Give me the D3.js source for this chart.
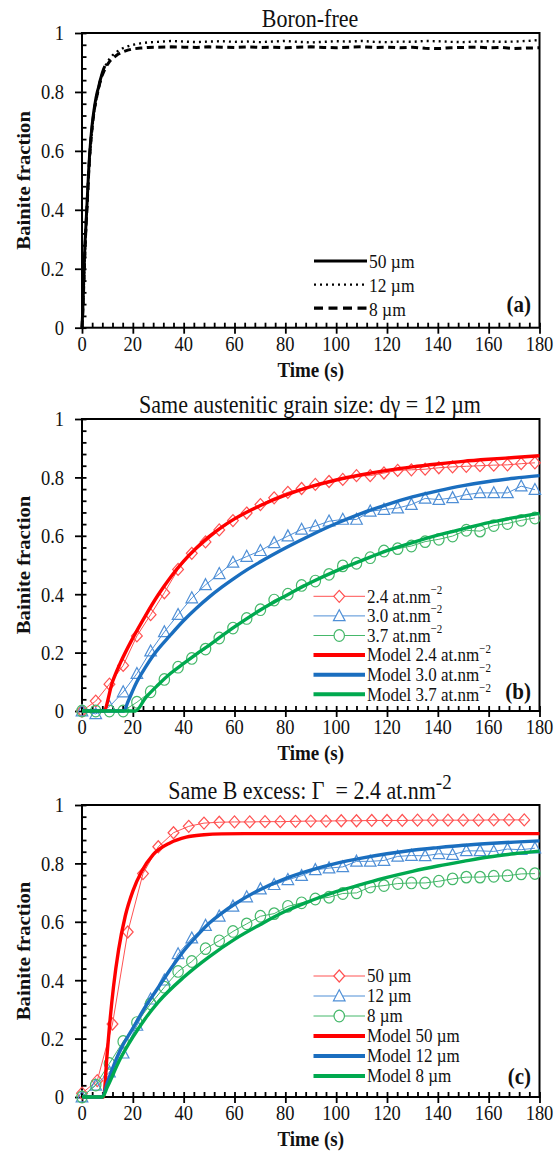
<!DOCTYPE html>
<html lang="en">
<head>
<meta charset="UTF-8">
<title>Bainite fraction vs time</title>
<script src="https://d3js.org/d3.v7.min.js"></script>
<style>
  body { margin: 0; background: #fff; }
  svg { display: block; font-family: "Liberation Serif", "Times New Roman", serif; }
  text { white-space: pre; }
</style>
</head>
<body>
<svg id="chart" width="557" height="1157"></svg>
<script>
// ---------- data ----------
const timeTicks = [0, 20, 40, 60, 80, 100, 120, 140, 160, 180];
const fracTicks = [0, 0.2, 0.4, 0.6, 0.8, 1];
const fracTickLabels = ["0", "0.2", "0.4", "0.6", "0.8", "1"];

// (a) boron-free, [time s, fraction]
const boronFree50 = [[0,0],[0.3,0.06],[0.6,0.14],[0.9,0.22],[1.2,0.29],[1.5,0.34],[1.8,0.39],[2.2,0.46],[2.6,0.53],[3,0.59],[3.5,0.645],[4,0.69],[4.5,0.725],[5,0.755],[5.5,0.78],[6,0.8],[6.5,0.815],[7,0.835],[7.5,0.85],[8,0.865],[8.5,0.878],[9,0.888]];
const boronFree12 = [[0,0],[0.3,0.04],[0.6,0.11],[0.9,0.19],[1.2,0.26],[1.5,0.32],[1.8,0.37],[2.2,0.44],[2.6,0.51],[3,0.57],[3.5,0.63],[4,0.675],[4.5,0.715],[5,0.745],[6,0.79],[7,0.83],[8,0.862],[9,0.885],[10,0.902],[11,0.914],[12,0.924],[14,0.938],[16,0.948],[18,0.955],[20,0.96],[23,0.965],[26,0.968],[30,0.97],[35,0.973],[40,0.971],[45,0.969],[50,0.971],[55,0.972],[60,0.97],[65,0.971],[70,0.969],[75,0.971],[80,0.973],[85,0.97],[90,0.968],[95,0.97],[100,0.972],[105,0.971],[110,0.973],[115,0.97],[120,0.969],[125,0.971],[130,0.97],[135,0.973],[140,0.972],[145,0.97],[150,0.969],[155,0.971],[160,0.972],[165,0.97],[170,0.971],[175,0.973],[180,0.976]];
const boronFree8 = [[0,0],[0.3,0.05],[0.6,0.12],[0.9,0.2],[1.2,0.27],[1.5,0.33],[1.8,0.38],[2.2,0.45],[2.6,0.52],[3,0.58],[3.5,0.635],[4,0.68],[4.5,0.718],[5,0.748],[6,0.792],[7,0.83],[8,0.858],[9,0.878],[10,0.893],[11,0.905],[12,0.914],[14,0.927],[16,0.936],[18,0.942],[20,0.946],[23,0.949],[26,0.951],[30,0.952],[35,0.953],[40,0.952],[45,0.951],[50,0.953],[55,0.952],[60,0.951],[65,0.953],[70,0.951],[75,0.952],[80,0.95],[85,0.952],[90,0.953],[95,0.951],[100,0.95],[105,0.952],[110,0.953],[115,0.951],[120,0.952],[125,0.95],[130,0.952],[135,0.948],[140,0.947],[145,0.95],[150,0.951],[155,0.952],[160,0.95],[165,0.951],[170,0.947],[175,0.949],[180,0.95]];

// (b) same grain size 12 um: measured points
const timesB = [0,5.4,10.8,16.2,21.6,27,32.4,37.8,43.2,48.6,54,59.4,64.8,70.2,75.6,81,86.4,91.8,97.2,102.6,108,113.4,118.8,124.2,129.6,135,140.4,145.8,151.2,156.6,162,167.4,172.8,178.2];
const fracB24 = [0,0.034,0.092,0.156,0.257,0.33,0.405,0.485,0.54,0.579,0.62,0.652,0.678,0.707,0.73,0.749,0.762,0.776,0.786,0.793,0.806,0.806,0.815,0.824,0.826,0.828,0.833,0.836,0.838,0.84,0.842,0.843,0.847,0.85];
const fracB30 = [0,-0.01,0.015,0.065,0.128,0.205,0.271,0.33,0.387,0.432,0.47,0.509,0.529,0.549,0.576,0.599,0.622,0.633,0.65,0.656,0.656,0.684,0.69,0.695,0.707,0.728,0.724,0.73,0.741,0.747,0.747,0.747,0.77,0.758];
const fracB37 = [0,0,0,0,0.03,0.066,0.108,0.15,0.18,0.212,0.25,0.284,0.317,0.347,0.38,0.4,0.43,0.445,0.468,0.497,0.506,0.525,0.548,0.556,0.565,0.58,0.588,0.599,0.619,0.616,0.635,0.642,0.653,0.661];
// (b) model curves [time, fraction]
const modelB24 = [[0,0],[8.5,0],[12,0.1],[15,0.163],[20,0.25],[25,0.327],[30,0.398],[35,0.46],[40,0.513],[45,0.558],[50,0.597],[55,0.63],[60,0.658],[70,0.703],[80,0.739],[90,0.768],[100,0.791],[110,0.809],[120,0.824],[130,0.836],[140,0.846],[150,0.855],[160,0.862],[170,0.868],[180,0.874]];
const modelB30 = [[0,0],[16.5,0],[18,0.03],[21.6,0.1],[25,0.15],[28,0.19],[35,0.262],[40,0.31],[45,0.352],[50,0.39],[55,0.424],[60,0.455],[65,0.484],[70,0.51],[80,0.558],[90,0.602],[100,0.642],[110,0.677],[120,0.707],[130,0.733],[140,0.754],[150,0.772],[160,0.786],[170,0.797],[180,0.806]];
const modelB37 = [[0,0],[21,0],[25,0.045],[30,0.09],[35,0.13],[40,0.163],[45,0.195],[50,0.225],[55,0.257],[60,0.288],[70,0.345],[80,0.394],[90,0.44],[100,0.48],[110,0.515],[120,0.549],[130,0.577],[140,0.602],[150,0.624],[160,0.645],[170,0.662],[180,0.677]];

// (c) same B excess 2.4 at/nm2: measured points
const timesC50 = [0,6,12,18,24,30,36,42,48,54,60,66,72,78,84,90,96,102,108,114,120,126,132,138,144,150,156,162,168,174];
const fracC50 = [0.013,0.056,0.25,0.565,0.765,0.857,0.905,0.927,0.938,0.941,0.942,0.942,0.943,0.943,0.944,0.945,0.945,0.946,0.946,0.947,0.947,0.947,0.948,0.948,0.948,0.948,0.948,0.949,0.949,0.949];
const timesC = [0,5.4,10.8,16.2,21.6,27,32.4,37.8,43.2,48.6,54,59.4,64.8,70.2,75.6,81,86.4,91.8,97.2,102.6,108,113.4,118.8,124.2,129.6,135,140.4,145.8,151.2,156.6,162,167.4,172.8,178.2];
const fracC12 = [0,0.04,0.085,0.15,0.245,0.335,0.4,0.49,0.544,0.587,0.619,0.653,0.685,0.712,0.727,0.744,0.758,0.778,0.784,0.788,0.807,0.807,0.81,0.824,0.827,0.826,0.833,0.83,0.843,0.843,0.841,0.849,0.847,0.852];
const fracC8 = [0,0.041,0.115,0.19,0.255,0.319,0.376,0.43,0.464,0.508,0.535,0.567,0.593,0.619,0.628,0.653,0.665,0.678,0.684,0.697,0.699,0.719,0.724,0.731,0.733,0.733,0.739,0.747,0.753,0.753,0.756,0.758,0.764,0.765];
// (c) model curves
const modelC50 = [[0,0],[8.5,0],[9.8,0.138],[10.8,0.241],[12.4,0.378],[14.4,0.504],[17,0.619],[20,0.705],[23.5,0.773],[28,0.83],[34.6,0.87],[41,0.89],[48,0.898],[55,0.901],[70,0.902],[100,0.902],[180,0.902]];
const modelC12 = [[0,0],[8,0],[10,0.05],[15,0.16],[20,0.235],[25,0.31],[30,0.375],[35,0.44],[40,0.5],[45,0.55],[50,0.595],[55,0.63],[60,0.66],[70,0.71],[80,0.748],[90,0.777],[100,0.8],[110,0.818],[120,0.833],[130,0.845],[140,0.854],[150,0.862],[160,0.868],[170,0.873],[180,0.877]];
const modelC8 = [[0,0],[8,0],[10,0.035],[15,0.13],[20,0.205],[25,0.27],[30,0.325],[40,0.41],[50,0.48],[60,0.54],[70,0.59],[80,0.636],[90,0.672],[100,0.703],[110,0.728],[120,0.752],[130,0.773],[140,0.791],[150,0.807],[160,0.822],[170,0.833],[180,0.842]];

// ---------- drawing ----------
const SY = 1.12;               // the source figure is stretched vertically
const svg = d3.select("#chart");
const left = 82, right = 539.5;
const x = d3.scaleLinear().domain([0, 180]).range([left, right]);

const RED = "#ff0000", BLUE = "#1a6ebf", GREEN = "#00a94f";
const RED_L = "#ff5252", BLUE_L = "#4f8fd6", GREEN_L = "#45b86a";

function label(parent, px, py, parts, o) {
    o = o || {};
    const t = parent.append("text")
        .attr("transform", `translate(${px},${py}) scale(1,${SY})` + (o.rotate ? " rotate(-90)" : ""))
        .attr("font-size", o.size || 18.5)
        .attr("font-weight", o.weight || "normal")
        .attr("text-anchor", o.anchor || "start")
        .attr("fill", "#111");
    if (o.middle) t.attr("dominant-baseline", "central");
    if (typeof parts === "string") parts = [[parts]];
    parts.forEach(p => {
        const s = t.append("tspan").text(p[0]);
        if (p[1]) s.attr("font-size", p[1].size).attr("dy", p[1].dy);
    });
    return t;
}

function markerPath(kind) {
    if (kind === "diamond") return "M0,-6L5.4,0L0,6L-5.4,0Z";
    if (kind === "triangle") return "M0,-6.2L5.8,4.8L-5.8,4.8Z";
    return "M-5.2,0A5.2,5.8 0 1,0 5.2,0A5.2,5.8 0 1,0 -5.2,0Z";
}

const modelLine = (y) => d3.line().x(d => x(d[0])).y(d => y(d[1])).curve(d3.curveMonotoneX);
const rawLine = (y) => d3.line().x(d => x(d[0])).y(d => y(d[1]));

function panel(top, bottom, title) {
    const y = d3.scaleLinear().domain([0, 1]).range([bottom, top]);
    const g = svg.append("g");

    const gx = g.append("g").attr("transform", `translate(0,${bottom})`);
    gx.append("g").call(d3.axisBottom(x).tickValues(timeTicks).tickSize(6).tickFormat(""));
    gx.append("g").call(d3.axisBottom(x).tickValues(d3.range(0, 181, 4)).tickSize(-5).tickFormat(""));
    const gy = g.append("g").attr("transform", `translate(${left},0)`);
    gy.append("g").call(d3.axisLeft(y).tickValues(fracTicks).tickSize(7).tickFormat(""));
    gy.append("g").call(d3.axisLeft(y).tickValues(d3.range(0, 1.001, 0.04)).tickSize(-4.5).tickFormat(""));
    g.selectAll(".domain").remove();
    g.selectAll(".tick line").attr("stroke", "#000").attr("stroke-width", 1.8);

    g.append("rect").attr("x", left).attr("y", top)
        .attr("width", right - left).attr("height", bottom - top)
        .attr("fill", "none").attr("stroke", "#000").attr("stroke-width", 2);

    timeTicks.forEach(t => label(g, x(t), bottom + 23, String(t), { anchor: "middle" }));
    fracTicks.forEach((v, i) => label(g, 64, y(v), fracTickLabels[i], { anchor: "end", middle: true }));

    label(g, (left + right) / 2, bottom + 49, "Time (s)", { anchor: "middle", weight: "bold", size: 19 });
    label(g, 30, (top + bottom) / 2, "Bainite fraction", { anchor: "middle", weight: "bold", size: 18.5, rotate: true });
    label(g, 310, top - 6, title, { anchor: "middle", size: 22 });

    const plot = g.append("g");
    return { g, plot, y, top, bottom };
}

function measured(p, times, fracs, color, kind) {
    const pts = times.map((t, i) => [t, fracs[i]]);
    p.plot.append("path").attr("d", rawLine(p.y)(pts))
        .attr("fill", "none").attr("stroke", color).attr("stroke-width", 1);
    p.plot.selectAll(null).data(pts).join("path")
        .attr("d", markerPath(kind))
        .attr("transform", d => `translate(${x(d[0])},${p.y(d[1])})`)
        .attr("fill", "none").attr("stroke", color).attr("stroke-width", 1.2);
}

function model(p, pts, color) {
    p.plot.append("path").attr("d", modelLine(p.y)(pts))
        .attr("fill", "none").attr("stroke", color).attr("stroke-width", 3.4)
        .attr("stroke-linejoin", "round");
}

function legend(p, rows, y0, step, x0, x1, size) {
    rows.forEach((r, i) => {
        const yy = y0 + i * step;
        const lg = p.g.append("g");
        lg.append("line").attr("x1", x0).attr("x2", x1).attr("y1", yy).attr("y2", yy)
            .attr("stroke", r.color).attr("stroke-width", r.width)
            .attr("stroke-dasharray", r.dash || null);
        if (r.marker) {
            lg.append("path").attr("d", markerPath(r.marker))
                .attr("transform", `translate(${(x0 + x1) / 2},${yy})`)
                .attr("fill", "#fff").attr("stroke", r.color).attr("stroke-width", 1.2);
        }
        label(lg, x1 + 2, yy, r.text, { size: size, middle: true });
    });
}

const sup = (s) => [s, { size: 11, dy: -6 }];

// ---- (a) ----
const pa = panel(33, 327.7, "Boron-free");
const lineA = rawLine(pa.y);
pa.plot.append("path").attr("d", lineA(boronFree50))
    .attr("fill", "none").attr("stroke", "#000").attr("stroke-width", 3);
pa.plot.append("path").attr("d", lineA(boronFree12))
    .attr("fill", "none").attr("stroke", "#000").attr("stroke-width", 2.4)
    .attr("stroke-dasharray", "2,4");
pa.plot.append("path").attr("d", lineA(boronFree8))
    .attr("fill", "none").attr("stroke", "#000").attr("stroke-width", 3)
    .attr("stroke-dasharray", "7,4.5");
legend(pa, [
    { text: "50 µm", color: "#000", width: 3.2 },
    { text: "12 µm", color: "#000", width: 2.4, dash: "2,4" },
    { text: "8 µm", color: "#000", width: 3.2, dash: "9,5.5" }
], 261, 23.6, 314, 367, 17.5);
label(pa.g, 531, 312, "(a)", { anchor: "end", weight: "bold", size: 21 });

// ---- (b) ----
const pb = panel(419, 711, "Same austenitic grain size: dγ = 12 µm");
measured(pb, timesB, fracB24, RED_L, "diamond");
measured(pb, timesB, fracB30, BLUE_L, "triangle");
measured(pb, timesB, fracB37, GREEN_L, "circle");
model(pb, modelB24, RED);
model(pb, modelB30, BLUE);
model(pb, modelB37, GREEN);
legend(pb, [
    { text: [["2.4 at.nm"], sup("−2")], color: RED_L, width: 1, marker: "diamond" },
    { text: [["3.0 at.nm"], sup("−2")], color: BLUE_L, width: 1, marker: "triangle" },
    { text: [["3.7 at.nm"], sup("−2")], color: GREEN_L, width: 1, marker: "circle" },
    { text: [["Model 2.4 at.nm"], sup("−2")], color: RED, width: 4 },
    { text: [["Model 3.0 at.nm"], sup("−2")], color: BLUE, width: 4 },
    { text: [["Model 3.7 at.nm"], sup("−2")], color: GREEN, width: 4 }
], 596.3, 19.6, 313.5, 365, 17);
label(pb.g, 531, 699, "(b)", { anchor: "end", weight: "bold", size: 21 });

// ---- (c) ----
const pc = panel(805, 1097, [["Same B excess: Γ  = 2.4 at.nm"], ["-2", { size: 19, dy: -9 }]]);
measured(pc, timesC50, fracC50, RED_L, "diamond");
measured(pc, timesC, fracC12, BLUE_L, "triangle");
measured(pc, timesC, fracC8, GREEN_L, "circle");
model(pc, modelC50, RED);
model(pc, modelC12, BLUE);
model(pc, modelC8, GREEN);
legend(pc, [
    { text: "50 µm", color: RED_L, width: 1, marker: "diamond" },
    { text: "12 µm", color: BLUE_L, width: 1, marker: "triangle" },
    { text: "8 µm", color: GREEN_L, width: 1, marker: "circle" },
    { text: "Model 50 µm", color: RED, width: 4 },
    { text: "Model 12 µm", color: BLUE, width: 4 },
    { text: "Model 8 µm", color: GREEN, width: 4 }
], 976, 20, 313.5, 365, 17);
label(pc.g, 531, 1084, "(c)", { anchor: "end", weight: "bold", size: 21 });
</script>
</body>
</html>
